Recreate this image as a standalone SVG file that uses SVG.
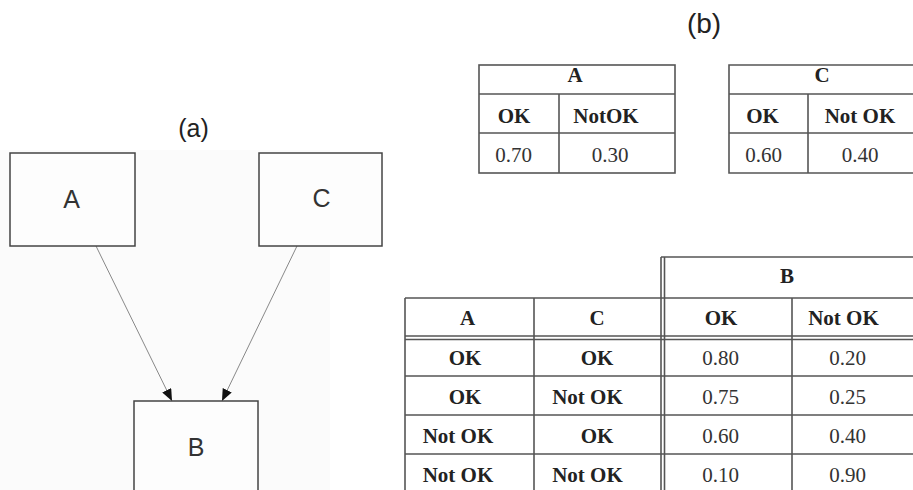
<svg xmlns="http://www.w3.org/2000/svg" width="913" height="490" viewBox="0 0 913 490">
<style>
.bg{fill:#ffffff}
.panel{fill:#fbfbfb}
.box{fill:#fdfdfd;stroke:#444;stroke-width:1.5}
.lbl{font-family:"Liberation Sans",Arial,sans-serif;font-size:25px;fill:#333;text-anchor:middle}
.title{font-family:"Liberation Sans",Arial,sans-serif;fill:#222;text-anchor:middle}
.edge{stroke:#888;stroke-width:1;fill:none}
.tl{stroke:#555;stroke-width:1.6;fill:none}
.th{font-family:"Liberation Serif","Times New Roman",serif;font-size:21px;font-weight:bold;fill:#222;text-anchor:middle}
.td{font-family:"Liberation Serif","Times New Roman",serif;font-size:21px;fill:#333;text-anchor:middle}
</style>
<defs>
<marker id="arr" viewBox="0 0 12 10" refX="12" refY="5" markerWidth="12" markerHeight="10" markerUnits="userSpaceOnUse" orient="auto">
<path d="M0,0 L12,5 L0,10 z" fill="#111"/>
</marker>
</defs>
<rect class="bg" x="0" y="0" width="913" height="490"/>
<rect class="panel" x="0" y="150" width="330" height="340"/>
<text class="title" x="193.5" y="137" font-size="25">(a)</text>
<text class="title" x="704" y="33" font-size="28">(b)</text>

<g id="edges">
<line class="edge" x1="96" y1="246" x2="172" y2="401" marker-end="url(#arr)"/>
<line class="edge" x1="297" y1="246" x2="222" y2="401" marker-end="url(#arr)"/>
</g>

<g id="nodeA">
<rect class="box" x="10" y="153" width="125" height="93"/>
<text class="lbl" x="71.5" y="208">A</text>
</g>
<g id="nodeC">
<rect class="box" x="259" y="153" width="123" height="93"/>
<text class="lbl" x="321.5" y="207">C</text>
</g>
<g id="nodeB">
<rect class="box" x="134" y="401" width="124" height="100"/>
<text class="lbl" x="196" y="456">B</text>
</g>

<g id="tableA">
<rect class="tl" x="479" y="65" width="196" height="108"/>
<line class="tl" x1="479" y1="94" x2="675" y2="94"/>
<line class="tl" x1="479" y1="133" x2="675" y2="133"/>
<line class="tl" x1="559" y1="94" x2="559" y2="173"/>
<text class="th" x="575" y="82">A</text>
<text class="th" x="514" y="123">OK</text>
<text class="th" x="606" y="123">NotOK</text>
<text class="td" x="513.5" y="162">0.70</text>
<text class="td" x="610" y="162">0.30</text>
</g>

<g id="tableC">
<path class="tl" d="M913,65 H729 V173 H913"/>
<line class="tl" x1="729" y1="94" x2="913" y2="94"/>
<line class="tl" x1="729" y1="133" x2="913" y2="133"/>
<line class="tl" x1="808" y1="94" x2="808" y2="173"/>
<text class="th" x="822" y="82">C</text>
<text class="th" x="762.5" y="123">OK</text>
<text class="th" x="860" y="123">Not  OK</text>
<text class="td" x="763.5" y="162">0.60</text>
<text class="td" x="860" y="162">0.40</text>
</g>

<g id="tableB">
<line class="tl" x1="661" y1="257" x2="913" y2="257"/>
<line class="tl" x1="661" y1="257" x2="661" y2="490"/>
<line class="tl" x1="664.5" y1="257" x2="664.5" y2="490"/>
<line class="tl" x1="405" y1="298" x2="913" y2="298"/>
<line class="tl" x1="405" y1="298" x2="405" y2="490"/>
<line class="tl" x1="534" y1="298" x2="534" y2="490"/>
<line class="tl" x1="792" y1="298" x2="792" y2="490"/>
<line class="tl" x1="405" y1="336" x2="913" y2="336"/>
<line class="tl" x1="405" y1="339.5" x2="913" y2="339.5"/>
<line class="tl" x1="405" y1="376" x2="913" y2="376"/>
<line class="tl" x1="405" y1="415" x2="913" y2="415"/>
<line class="tl" x1="405" y1="454" x2="913" y2="454"/>
<text class="th" x="787" y="283">B</text>
<text class="th" x="467.5" y="325">A</text>
<text class="th" x="597" y="325">C</text>
<text class="th" x="721" y="325">OK</text>
<text class="th" x="843.5" y="325">Not OK</text>
<text class="th" x="465" y="365">OK</text>
<text class="th" x="597" y="365">OK</text>
<text class="td" x="720.5" y="365">0.80</text>
<text class="td" x="847.5" y="365">0.20</text>
<text class="th" x="465" y="404">OK</text>
<text class="th" x="587.5" y="404">Not OK</text>
<text class="td" x="720.5" y="404">0.75</text>
<text class="td" x="847.5" y="404">0.25</text>
<text class="th" x="458" y="443">Not OK</text>
<text class="th" x="597" y="443">OK</text>
<text class="td" x="720.5" y="443">0.60</text>
<text class="td" x="847.5" y="443">0.40</text>
<text class="th" x="458" y="482">Not OK</text>
<text class="th" x="587.5" y="482">Not OK</text>
<text class="td" x="720.5" y="482">0.10</text>
<text class="td" x="847.5" y="482">0.90</text>
</g>
</svg>
